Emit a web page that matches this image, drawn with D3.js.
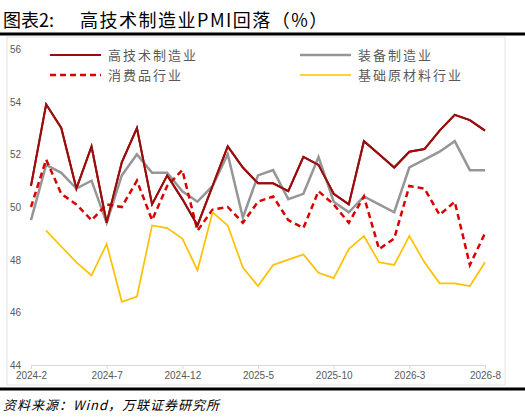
<html>
<script src="https://d3js.org/d3.v7.min.js"></script>
<style>body{margin:0;background:#fff;font-family:"Noto Sans CJK SC",sans-serif;}</style>
<body>
<script>
var months = d3.range(0, 31);
var tickLabels = ["2024-2", "2024-7", "2024-12", "2025-5", "2025-10", "2026-3", "2026-8"];
var hiTech = [50.8,53.9,53.0,50.7,52.3,49.4,51.7,53.0,50.1,51.2,50.3,49.3,50.8,52.3,51.5,50.9,50.9,50.6,51.9,51.6,50.5,50.1,52.5,52.0,51.5,52.1,52.2,52.9,53.5,53.3,52.9];
var equip = [49.5,51.6,51.3,50.7,51.0,49.4,51.2,52.0,51.3,51.3,50.6,50.2,50.8,52.0,49.6,51.2,51.4,50.3,50.5,51.9,50.2,49.8,50.4,50.1,49.8,51.5,51.8,52.1,52.5,51.4,51.4];
var consumer = [50.0,51.8,50.5,50.1,49.5,50.1,50.0,51.0,49.5,50.8,51.4,49.1,49.9,50.0,49.4,50.2,50.4,49.5,49.2,50.6,50.1,49.4,50.4,48.4,48.8,50.8,50.7,49.7,50.2,47.8,49.0];
var basic = [null,49.1,48.5,47.9,47.4,48.6,46.4,46.6,49.3,49.2,48.8,47.6,49.8,49.3,47.7,47.0,47.8,48.0,48.2,47.5,47.3,48.4,48.9,47.9,47.8,48.9,47.9,47.1,47.1,47.0,47.9];

var svg = d3.select("body").append("svg").attr("width", 525).attr("height", 419);

svg.append("text").attr("x", 3).attr("y", 27).attr("font-size", 18).attr("fill", "#000")
    .text("图表2:");
svg.append("text").attr("x", 80).attr("y", 27).attr("font-size", 18).attr("fill", "#000").attr("letter-spacing", 1.5)
    .text("高技术制造业PMI回落（%）");
svg.append("line").attr("x1", 0).attr("x2", 525).attr("y1", 34).attr("y2", 34).attr("stroke", "#000").attr("stroke-width", 3);
svg.append("line").attr("x1", 0).attr("x2", 525).attr("y1", 389).attr("y2", 389).attr("stroke", "#000").attr("stroke-width", 3);
svg.append("rect").attr("x", 7).attr("y", 37).attr("width", 498).attr("height", 348).attr("fill", "none").attr("stroke", "#e4e4e4");
svg.append("text").attr("x", 3).attr("y", 410).attr("font-size", 13).attr("font-style", "italic").attr("letter-spacing", 1)
    .text("资料来源：Wind，万联证券研究所");

var x = d3.scaleLinear().domain([0, 30]).range([31, 485]);
var y = d3.scaleLinear().domain([44, 56]).range([365, 49]);

svg.append("g").attr("transform", "translate(0,365)")
    .call(d3.axisBottom(x).tickValues(d3.range(0, 31, 5)).tickFormat((d, i) => tickLabels[i]).tickSizeOuter(0).tickSize(4))
    .call(g => g.select(".domain").attr("stroke", "#d9d9d9"))
    .call(g => g.selectAll("line").attr("stroke", "#d9d9d9"))
    .call(g => g.selectAll("text").attr("fill", "#595959").attr("font-size", 10).attr("font-family", "Liberation Sans"));

svg.append("g").selectAll("text").data(d3.range(44, 57, 2)).join("text")
    .attr("x", 10).attr("y", d => y(d) + 4).attr("font-size", 10).attr("fill", "#595959")
    .attr("font-family", "Liberation Sans").text(d => d);

var series = [
    { name: "高技术制造业", data: hiTech, color: "#9b0d0d", w: 2, dash: null },
    { name: "装备制造业", data: equip, color: "#969696", w: 2.5, dash: null },
    { name: "消费品行业", data: consumer, color: "#d90000", w: 2.5, dash: "6,4" },
    { name: "基础原材料行业", data: basic, color: "#ffc000", w: 1.7, dash: null }
];
var line = d3.line().defined(d => d != null).x((d, i) => x(i)).y(d => y(d));
series.forEach(s => {
    svg.append("path").datum(s.data).attr("d", line).attr("fill", "none")
        .attr("stroke", s.color).attr("stroke-width", s.w).attr("stroke-dasharray", s.dash);
});
// high-tech again on top
svg.append("path").datum(hiTech).attr("d", line).attr("fill", "none").attr("stroke", "#9b0d0d").attr("stroke-width", 2);

var legPos = [[50, 55], [300, 55], [50, 75], [300, 75]];
series.forEach((s, i) => {
    var p = legPos[i];
    svg.append("line").attr("x1", p[0]).attr("x2", p[0] + 51).attr("y1", p[1]).attr("y2", p[1])
        .attr("stroke", s.color).attr("stroke-width", s.w).attr("stroke-dasharray", s.dash);
    svg.append("text").attr("x", p[0] + 58).attr("y", p[1] + 5).attr("font-size", 13).attr("fill", "#595959")
        .attr("letter-spacing", 2).text(s.name);
});
</script>
</body>
</html>
